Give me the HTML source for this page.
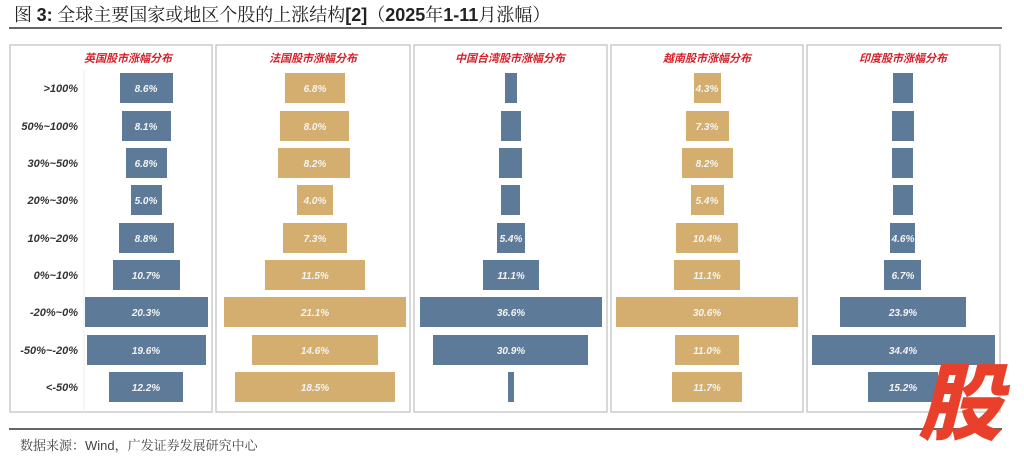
<!DOCTYPE html>
<html><head><meta charset="utf-8"><style>
body{margin:0;background:#fff;width:1024px;height:457px;overflow:hidden;font-family:"Liberation Sans","Noto Sans CJK SC",sans-serif}
</style></head><body>
<svg width="1024" height="457" xmlns="http://www.w3.org/2000/svg" font-family="Liberation Sans, Noto Sans CJK SC, sans-serif">
<text x="14" y="21" font-size="18" font-family="Noto Serif CJK SC, serif" fill="#222">图 <tspan font-family="Liberation Sans" font-weight="bold">3:</tspan> 全球主要国家或地区个股的上涨结构<tspan font-family="Liberation Sans" font-weight="bold">[2]</tspan>（<tspan font-family="Liberation Sans" font-weight="bold">2025</tspan>年<tspan font-family="Liberation Sans" font-weight="bold">1-11</tspan>月涨幅）</text>
<rect x="9" y="27" width="993" height="2" fill="#666"/>
<g fill="none" stroke="#ccc" stroke-width="1.5">
<rect x="10" y="45" width="202" height="367"/><rect x="216" y="45" width="194" height="367"/><rect x="414" y="45" width="193" height="367"/><rect x="611" y="45" width="192" height="367"/><rect x="807" y="45" width="193" height="367"/>
</g>
<line x1="84" y1="70" x2="84" y2="412" stroke="#eee"/>
<g font-size="11" font-weight="bold" font-style="italic" fill="#d3222a" text-anchor="middle" font-family="Noto Sans CJK SC, sans-serif">
<text x="128" y="62">英国股市涨幅分布</text><text x="313" y="62">法国股市涨幅分布</text><text x="510" y="62">中国台湾股市涨幅分布</text><text x="707" y="62">越南股市涨幅分布</text><text x="903" y="62">印度股市涨幅分布</text>
</g>
<g font-size="11" font-weight="bold" font-style="italic" fill="#333" text-anchor="end">
<text x="78" y="92">&gt;100%</text><text x="78" y="130">50%~100%</text><text x="78" y="167">30%~50%</text><text x="78" y="204">20%~30%</text><text x="78" y="242">10%~20%</text><text x="78" y="279">0%~10%</text><text x="78" y="316">-20%~0%</text><text x="78" y="354">-50%~-20%</text><text x="78" y="391">&lt;-50%</text>
</g>
<g fill="#5d7b99">
<rect x="120" y="73" width="53" height="30"/><rect x="122" y="111" width="49" height="30"/><rect x="126" y="148" width="41" height="30"/><rect x="131" y="185" width="31" height="30"/><rect x="119" y="223" width="55" height="30"/><rect x="113" y="260" width="67" height="30"/><rect x="85" y="297" width="123" height="30"/><rect x="87" y="335" width="119" height="30"/><rect x="109" y="372" width="74" height="30"/>
<rect x="505" y="73" width="12" height="30"/><rect x="501" y="111" width="20" height="30"/><rect x="499" y="148" width="23" height="30"/><rect x="501" y="185" width="19" height="30"/><rect x="497" y="223" width="28" height="30"/><rect x="483" y="260" width="56" height="30"/><rect x="420" y="297" width="182" height="30"/><rect x="433" y="335" width="155" height="30"/><rect x="508" y="372" width="6" height="30"/>
<rect x="893" y="73" width="20" height="30"/><rect x="892" y="111" width="22" height="30"/><rect x="892" y="148" width="21" height="30"/><rect x="893" y="185" width="20" height="30"/><rect x="890" y="223" width="25" height="30"/><rect x="884" y="260" width="37" height="30"/><rect x="840" y="297" width="126" height="30"/><rect x="812" y="335" width="183" height="30"/><rect x="868" y="372" width="70" height="30"/>
</g>
<g fill="#d4ae6e">
<rect x="285" y="73" width="60" height="30"/><rect x="280" y="111" width="69" height="30"/><rect x="278" y="148" width="72" height="30"/><rect x="297" y="185" width="36" height="30"/><rect x="283" y="223" width="64" height="30"/><rect x="265" y="260" width="100" height="30"/><rect x="224" y="297" width="182" height="30"/><rect x="252" y="335" width="126" height="30"/><rect x="235" y="372" width="160" height="30"/>
<rect x="694" y="73" width="27" height="30"/><rect x="686" y="111" width="43" height="30"/><rect x="682" y="148" width="51" height="30"/><rect x="691" y="185" width="33" height="30"/><rect x="676" y="223" width="62" height="30"/><rect x="674" y="260" width="66" height="30"/><rect x="616" y="297" width="182" height="30"/><rect x="675" y="335" width="64" height="30"/><rect x="672" y="372" width="70" height="30"/>
</g>
<g font-size="10" font-weight="bold" font-style="italic" fill="#f4f4f4" text-anchor="middle">
<text x="146" y="92">8.6%</text><text x="146" y="130">8.1%</text><text x="146" y="167">6.8%</text><text x="146" y="204">5.0%</text><text x="146" y="242">8.8%</text><text x="146" y="279">10.7%</text><text x="146" y="316">20.3%</text><text x="146" y="354">19.6%</text><text x="146" y="391">12.2%</text>
<text x="315" y="92">6.8%</text><text x="315" y="130">8.0%</text><text x="315" y="167">8.2%</text><text x="315" y="204">4.0%</text><text x="315" y="242">7.3%</text><text x="315" y="279">11.5%</text><text x="315" y="316">21.1%</text><text x="315" y="354">14.6%</text><text x="315" y="391">18.5%</text>
<text x="511" y="242">5.4%</text><text x="511" y="279">11.1%</text><text x="511" y="316">36.6%</text><text x="511" y="354">30.9%</text>
<text x="707" y="92">4.3%</text><text x="707" y="130">7.3%</text><text x="707" y="167">8.2%</text><text x="707" y="204">5.4%</text><text x="707" y="242">10.4%</text><text x="707" y="279">11.1%</text><text x="707" y="316">30.6%</text><text x="707" y="354">11.0%</text><text x="707" y="391">11.7%</text>
<text x="903" y="242">4.6%</text><text x="903" y="279">6.7%</text><text x="903" y="316">23.9%</text><text x="903" y="354">34.4%</text><text x="903" y="391">15.2%</text>
</g>
<rect x="9" y="428" width="993" height="2" fill="#666"/>
<text x="20" y="450" font-size="13" fill="#444" font-family="Noto Serif CJK SC, serif">数据来源：<tspan font-family="Liberation Sans">Wind</tspan>，广发证券发展研究中心</text>
<text x="960" y="433" font-size="84" font-weight="900" font-style="italic" fill="#e8402a" text-anchor="middle" font-family="Noto Sans CJK SC, sans-serif">股</text>
</svg>
</body></html>
